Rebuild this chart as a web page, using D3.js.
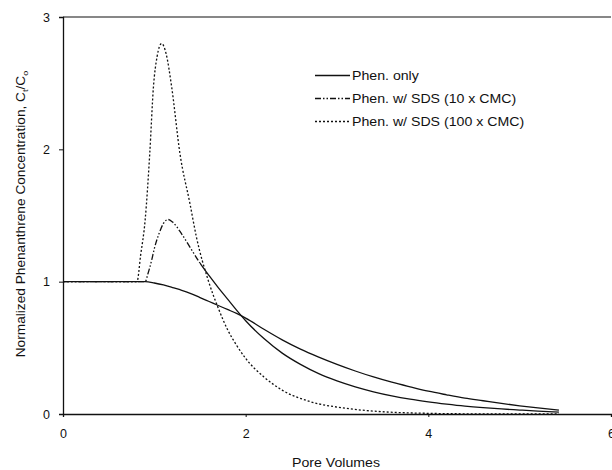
<!DOCTYPE html>
<html><head><meta charset="utf-8">
<script src="https://cdn.jsdelivr.net/npm/d3@7"></script>
<style>body{margin:0;background:#fff}svg{display:block}text{font-family:Arial,"Liberation Sans",sans-serif;fill:#111}</style>
</head><body><svg id="c" width="612" height="470"></svg>
<script>
const xTicks = [0, 2, 4, 6];
const yTicks = [0, 1, 2, 3];
const seriesNames = ["Phen. only", "Phen. w/ SDS (10 x CMC)", "Phen. w/ SDS (100 x CMC)"];

const phenX = [0,0.5,0.9,1.0,1.1,1.2,1.3,1.4,1.5,1.6,1.7,1.8,1.9,2.0,2.2,2.4,2.6,2.8,3.0,3.2,3.4,3.6,3.8,4.0,4.2,4.4,4.6,4.8,5.0,5.2,5.43];
const phenY = [1,1,1,0.99,0.975,0.955,0.935,0.91,0.88,0.85,0.82,0.79,0.76,0.725,0.64,0.56,0.49,0.43,0.375,0.325,0.28,0.24,0.205,0.172,0.145,0.12,0.1,0.08,0.062,0.046,0.03];

const sds10X = [0,0.5,0.9,0.93,0.97,1.0,1.05,1.1,1.15,1.2,1.3,1.4,1.5,1.6,1.7,1.8,1.9,2.0,2.2,2.4,2.6,2.8,3.0,3.2,3.4,3.6,3.8,4.0,4.2,4.4,4.6,4.8,5.0,5.2,5.43];
const sds10Y = [1,1,1.0,1.06,1.16,1.25,1.36,1.44,1.47,1.45,1.36,1.25,1.14,1.045,0.955,0.87,0.785,0.705,0.57,0.46,0.375,0.305,0.25,0.205,0.168,0.137,0.112,0.092,0.075,0.06,0.048,0.038,0.03,0.022,0.014];

const sds100X = [0,0.5,0.81,0.85,0.9,0.95,0.99,1.03,1.08,1.13,1.19,1.28,1.39,1.46,1.59,1.7,1.8,1.9,2.0,2.2,2.4,2.7,3.1,3.5,4.0,4.5,5.0,5.43];
const sds100Y = [1,1,1,1.2,1.47,1.97,2.47,2.7,2.8,2.72,2.47,1.97,1.59,1.34,1.01,0.8,0.64,0.52,0.42,0.28,0.18,0.095,0.043,0.017,0.005,0.001,0,0];

const svg = d3.select("#c");
const L = 63, R = 611, T = 17, B = 414;
const x = d3.scaleLinear().domain([0, 6]).range([L, R]);
const y = d3.scaleLinear().domain([0, 3]).range([B, T]);
const SX = 1.18; // horizontal stretch of the printed font

svg.append("line").attr("x1", L).attr("x2", R).attr("y1", T).attr("y2", T).attr("stroke", "#111").attr("stroke-width", 1.2);

const xa = svg.append("g").attr("transform", `translate(0,${B})`)
  .call(d3.axisBottom(x).tickValues(xTicks).tickSize(3).tickPadding(12).tickFormat(d3.format("d")));
const ya = svg.append("g").attr("transform", `translate(${L},0)`)
  .call(d3.axisLeft(y).tickValues(yTicks).tickSize(4).tickPadding(9).tickFormat(d3.format("d")));
[xa, ya].forEach(a => {
  a.select(".domain").attr("stroke", "#111").attr("stroke-width", 1.3);
  a.selectAll(".tick line").attr("stroke", "#111");
  a.selectAll("text").attr("font-size", 12.5).attr("fill", "#111").attr("font-family", "Arial, 'Liberation Sans', sans-serif");
});

const line = d3.line().x(d => x(d[0])).y(d => y(d[1])).curve(d3.curveMonotoneX);
const zip = (a, b) => a.map((v, i) => [v, b[i]]);

const defs = svg.append("defs");
defs.append("clipPath").attr("id", "cl").append("rect").attr("x", 0).attr("y", 0).attr("width", x(1.5)).attr("height", 470);
defs.append("clipPath").attr("id", "cr").append("rect").attr("x", x(1.5)).attr("y", 0).attr("width", 612).attr("height", 470);

svg.append("path").datum(zip(sds100X, sds100Y)).attr("d", line).attr("fill", "none")
  .attr("stroke", "#111").attr("stroke-width", 1.3).attr("stroke-dasharray", "2,2");
svg.append("path").datum(zip(sds10X, sds10Y)).attr("d", line).attr("fill", "none").attr("clip-path", "url(#cl)")
  .attr("stroke", "#111").attr("stroke-width", 1.3).attr("stroke-dasharray", "6,2,1.5,2,1.5,2");
svg.append("path").datum(zip(sds10X, sds10Y)).attr("d", line).attr("fill", "none").attr("clip-path", "url(#cr)")
  .attr("stroke", "#111").attr("stroke-width", 1.3);
svg.append("path").datum(zip(phenX, phenY)).attr("d", line).attr("fill", "none")
  .attr("stroke", "#111").attr("stroke-width", 1.3);

// legend
const dashes = [null, "6,2,1.5,2,1.5,2", "2,2"];
const lg = svg.append("g");
seriesNames.forEach((n, i) => {
  const yy = 75.5 + i * 23;
  lg.append("line").attr("x1", 315).attr("x2", 350).attr("y1", yy).attr("y2", yy)
    .attr("stroke", "#111").attr("stroke-width", 1.3).attr("stroke-dasharray", dashes[i]);
  lg.append("text").attr("transform", `translate(352,${yy + 4.5}) scale(${SX},1)`).attr("font-size", 12).text(n);
});

// axis labels
svg.append("text").attr("transform", `translate(336,467) scale(${SX},1)`).attr("text-anchor", "middle").attr("font-size", 12).text("Pore Volumes");
const yl = svg.append("text").attr("transform", `translate(25,214) rotate(-90) scale(1.14,1)`).attr("text-anchor", "middle").attr("font-size", 12);
yl.append("tspan").text("Normalized Phenanthrene Concentration, C");
yl.append("tspan").attr("font-size", 8).attr("dy", 3).text("t");
yl.append("tspan").attr("dy", -3).text("/C");
yl.append("tspan").attr("font-size", 8).attr("dy", 3).text("o");
</script></body></html>
